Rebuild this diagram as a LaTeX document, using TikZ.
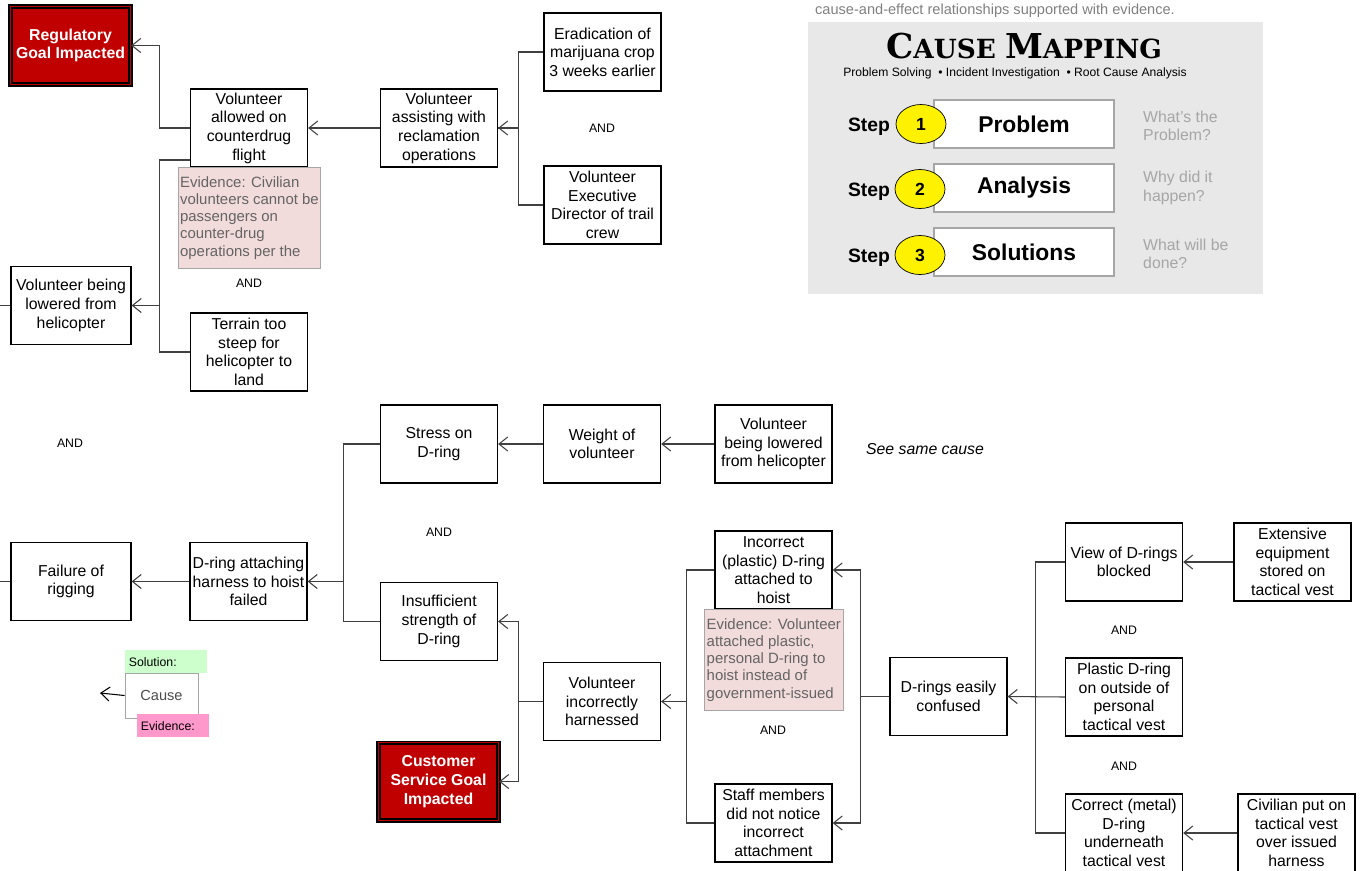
\documentclass[tikz,border=0pt]{standalone}
\usepackage{fontspec}
\setmainfont{Liberation Sans}
\newfontfamily\titlefont{DejaVu Serif}
\usetikzlibrary{arrows.meta,shapes.geometric}
\definecolor{goalred}{RGB}{192,0,0}
\definecolor{evfill}{RGB}{242,220,219}
\definecolor{evtext}{RGB}{100,100,100}
\definecolor{solgreen}{RGB}{204,255,204}
\definecolor{evpink}{RGB}{255,153,204}
\definecolor{panelgray}{RGB}{232,232,232}
\definecolor{linkgray}{RGB}{64,64,64}
\definecolor{hintgray}{RGB}{166,166,166}

\begin{document}
\begin{tikzpicture}[x=0.02cm, y=-0.02cm,
    cause/.style={draw, fill=white, line width=0.75pt, align=center, minimum width=2.34cm,
        minimum height=1.56cm, inner sep=0.5pt, font=\fontsize{9}{10.6}\selectfont},
    wide/.style={minimum width=2.4cm},
    goal/.style={cause, wide, fill=goalred, text=white, font=\fontsize{9}{10.6}\selectfont\bfseries,
        draw=black, double=goalred, double distance=0.9pt, line width=0.7pt},
    evid/.style={draw=black!35, fill=evfill, text=evtext, align=left, anchor=north west,
        minimum width=2.84cm, minimum height=2.02cm, inner sep=1pt, font=\fontsize{8.5}{9.8}\selectfont},
    andlbl/.style={font=\fontsize{7}{8}\selectfont},
    link/.style={draw=linkgray, line width=0.6pt},
    arr/.style={link, -{Straight Barb[length=5pt,width=8pt]}},
    stepnum/.style={ellipse, draw, fill=yellow, minimum width=1cm, minimum height=0.78cm,
        inner sep=0pt, font=\fontsize{10}{12}\selectfont\bfseries},
    stepbox/.style={draw=black!35, fill=white, line width=0.8pt, minimum width=3.6cm,
        minimum height=0.96cm, font=\fontsize{13}{15}\selectfont\bfseries},
    steplbl/.style={font=\fontsize{11}{13}\selectfont\bfseries},
    hint/.style={anchor=west, align=left, text=hintgray, font=\fontsize{9}{10.6}\selectfont}
  ]
  \useasboundingbox (0,0) rectangle (1361,870);

  % legend panel
  \node[text=black!50, font=\fontsize{8.3}{10}\selectfont] (intro) at (995,11)
      {cause-and-effect relationships supported with evidence.};
  \fill[panelgray] (808,22) rectangle (1263,294);
  \node (title) at (1024,46) {\titlefont\bfseries\fontsize{19.5}{22}\selectfont C\fontsize{15}{18}\selectfont AUSE
      \fontsize{19.5}{22}\selectfont M\fontsize{15}{18}\selectfont APPING};
  \node[font=\fontsize{6.9}{8}\selectfont] (subtitle) at (1015,73)
      {Problem Solving \ \textbullet\ Incident Investigation \ \textbullet\ Root Cause Analysis};
  \node[steplbl] (step1) at (869,127) {Step};
  \node[stepbox] (prob) at (1024,124) {Problem};
  \node[stepnum] (num1) at (921,124) {1};
  \node[hint] (hint1) at (1137,126) {What's the\\Problem?};
  \node[steplbl] (step2) at (869,192) {Step};
  \node[stepbox] (anal) at (1024,188) {Analysis};
  \node[stepnum] (num2) at (920,189) {2};
  \node[hint] (hint2) at (1137,188) {Why did it\\happen?};
  \node[steplbl] (step3) at (869,258) {Step};
  \node[stepbox] (solu) at (1024,252) {Solutions};
  \node[stepnum] (num3) at (920,255) {3};
  \node[hint] (hint3) at (1137,254) {What will be\\done?};

  % regulatory branch
  \node[goal] (reg) at (70.5,45.5) {Regulatory\\Goal Impacted};
  \node[cause] (allowed) at (249,128) {Volunteer\\allowed on\\counterdrug\\flight};
  \node[cause] (assist) at (439,128) {Volunteer\\assisting with\\reclamation\\operations};
  \node[cause] (erad) at (602.5,52) {Eradication of\\marijuana crop\\3 weeks earlier};
  \node[andlbl] (and1) at (602,128) {AND};
  \node[cause] (execdir) at (602.5,205) {Volunteer\\Executive\\Director of trail\\crew};
  \node[evid] (ev1) at (178,167) {Evidence: Civilian\\volunteers cannot be\\passengers on\\counter-drug\\operations per the};
  \node[andlbl] (and2) at (249,283) {AND};
  \node[cause, wide] (lowered1) at (71,305.5) {Volunteer being\\lowered from\\helicopter};
  \node[cause] (terrain) at (249,352) {Terrain too\\steep for\\helicopter to\\land};
  \coordinate (offA) at (0,305.5);

  \draw[arr] (allowed.west) -- ++(-30,0) |- (reg.east);
  \draw[arr] (assist.west) -- (allowed.east);
  \draw[arr] (erad.west) -- ++(-25,0) |- (assist.east);
  \draw[link] (execdir.west) -- ++(-25,0) |- (assist.east);
  \draw[arr] (allowed.west) ++(0,32) -- ++(-30,0) |- (lowered1.east);
  \draw[link] (terrain.west) -- ++(-30,0) |- (lowered1.east);
  \draw[link] (lowered1.west) -- (offA);

  % rigging branch
  \node[andlbl] (and3) at (70,443) {AND};
  \node[cause] (stress) at (439,444) {Stress on\\D-ring};
  \node[cause] (weight) at (602,444) {Weight of\\volunteer};
  \node[cause] (lowered2) at (773.5,444) {Volunteer\\being lowered\\from helicopter};
  \node[font=\fontsize{9}{10.6}\selectfont\itshape] (same) at (925,449) {See same cause};
  \node[andlbl] (and4) at (439,532) {AND};
  \node[cause, wide] (failure) at (71,581.5) {Failure of\\rigging};
  \node[cause] (dring) at (248.5,581.5) {D-ring attaching\\harness to hoist\\failed};
  \node[cause] (insuff) at (439,621.5) {Insufficient\\strength of\\D-ring};
  \coordinate (offB) at (0,581.5);

  \draw[link] (failure.west) -- (offB);
  \draw[arr] (dring.west) -- (failure.east);
  \draw[arr] (stress.west) -- ++(-36,0) |- (dring.east);
  \draw[link] (insuff.west) -- ++(-36,0) |- (dring.east);
  \draw[arr] (weight.west) -- (stress.east);
  \draw[arr] (lowered2.west) -- (weight.east);

  % harness branch
  \node[cause] (harness) at (602,701.5) {Volunteer\\incorrectly\\harnessed};
  \node[goal] (cust) at (438.5,781.5) {Customer\\Service Goal\\Impacted};
  \node[cause] (incorrect) at (773.5,570) {Incorrect\\(plastic) D-ring\\attached to\\hoist};
  \node[evid, minimum width=2.78cm] (ev2) at (704,609) {Evidence: Volunteer\\attached plastic,\\personal D-ring to\\hoist instead of\\government-issued};
  \node[andlbl] (and5) at (773,730) {AND};
  \node[cause] (staff) at (773.5,823) {Staff members\\did not notice\\incorrect\\attachment};
  \node[cause] (confused) at (948.5,696.5) {D-rings easily\\confused};
  \node[cause] (view) at (1124,562) {View of D-rings\\blocked};
  \node[andlbl] (and6) at (1124,630) {AND};
  \node[cause] (plasticvest) at (1124,697) {Plastic D-ring\\on outside of\\personal\\tactical vest};
  \node[andlbl] (and7) at (1124,766) {AND};
  \node[cause] (correct) at (1124,833) {Correct (metal)\\D-ring\\underneath\\tactical vest};
  \node[cause] (extensive) at (1292.5,562) {Extensive\\equipment\\stored on\\tactical vest};
  \node[cause] (civilian) at (1296.5,833) {Civilian put on\\tactical vest\\over issued\\harness};

  \draw[arr] (harness.west) -- ++(-24,0) |- (insuff.east);
  \draw[arr] (harness.west) -- ++(-24,0) |- (cust.east);
  \draw[arr] (incorrect.west) -- ++(-28,0) |- (harness.east);
  \draw[link] (staff.west) -- ++(-28,0) |- (harness.east);
  \draw[arr] (confused.west) -- ++(-29,0) |- (incorrect.east);
  \draw[arr] (confused.west) -- ++(-29,0) |- (staff.east);
  \draw[arr] (view.west) -- ++(-29,0) |- (confused.east);
  \draw[link] (plasticvest.west) -- (confused.east);
  \draw[link] (correct.west) -- ++(-29,0) |- (confused.east);
  \draw[arr] (extensive.west) -- (view.east);
  \draw[arr] (civilian.west) -- (correct.east);

  % key
  \node[draw=black!35, fill=white, minimum width=1.46cm, minimum height=0.9cm, text=black!70,
      font=\fontsize{8.3}{10}\selectfont] (keycause) at (161.5,695.5) {Cause};
  \coordinate (keyend) at (100,693);
  \draw[arr, draw=black] (keycause.west) -- (keyend);
  \node[fill=solgreen, anchor=north west, minimum width=1.62cm, minimum height=0.46cm, align=left,
      text width=1.5cm, inner sep=2pt, font=\fontsize{7}{8}\selectfont] (keysol) at (125,650) {Solution:};
  \node[fill=evpink, anchor=north west, minimum width=1.38cm, minimum height=0.46cm, align=left,
      text width=1.3cm, inner sep=2pt, font=\fontsize{7}{8}\selectfont] (keyev) at (137,714) {Evidence:};
\end{tikzpicture}
\end{document}
